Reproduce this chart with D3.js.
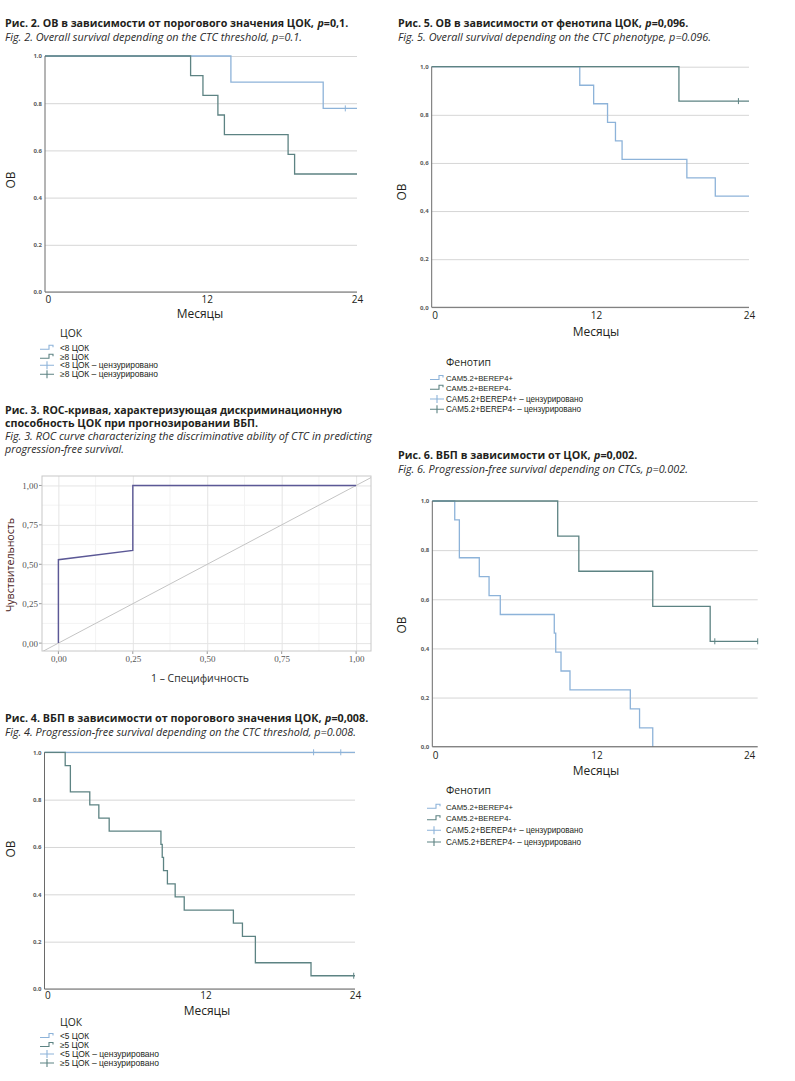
<!DOCTYPE html>
<html><head><meta charset="utf-8">
<script src="https://cdn.jsdelivr.net/npm/d3@7"></script>
<style>body{margin:0;background:#fff}</style>
</head><body>
<script>
// ---------------- DATA ----------------
const kmXTicks = [0, 12, 24];
const kmYTicks = [0, 0.2, 0.4, 0.6, 0.8, 1.0];
const rocTicks = [0, 0.25, 0.5, 0.75, 1];

// Fig 2 – OS by CTC threshold
const f2LowT = [0, 14.3, 21.4];
const f2LowS = [1, 0.889, 0.778];
const f2LowCens = [23.1];
const f2HighT = [0, 11.2, 12.15, 13.3, 13.8, 18.7, 19.2];
const f2HighS = [1, 0.917, 0.833, 0.75, 0.667, 0.583, 0.5];
const f2HighCens = [];

// Fig 3 – ROC
const rocFpr = [0, 0, 0.25, 0.25, 1];
const rocTpr = [0, 0.529, 0.588, 1, 1];

// Fig 4 – PFS by CTC threshold
const f4LowT = [0];
const f4LowS = [1];
const f4LowCens = [20.8, 22.9];
const f4HighT = [0, 1.6, 2.0, 3.5, 4.2, 5.0, 9.0, 9.1, 9.2, 9.5, 10.1, 10.8, 14.6, 15.3, 16.3, 20.6];
const f4HighS = [1, 0.944, 0.833, 0.778, 0.722, 0.667, 0.611, 0.556, 0.5, 0.444, 0.389, 0.333, 0.278, 0.222, 0.111, 0.056];
const f4HighCens = [23.9];

// Fig 5 – OS by phenotype
const f5PosT = [0, 11.2, 12.25, 13.3, 13.9, 14.4, 19.3, 21.45];
const f5PosS = [1, 0.923, 0.846, 0.769, 0.692, 0.615, 0.538, 0.462];
const f5PosCens = [];
const f5NegT = [0, 18.7];
const f5NegS = [1, 0.857];
const f5NegCens = [23.2];

// Fig 6 – PFS by phenotype
const f6PosT = [0, 1.7, 2.05, 3.56, 4.3, 5.15, 9.24, 9.35, 9.75, 10.43, 15.0, 15.7, 16.7];
const f6PosS = [1, 0.923, 0.769, 0.692, 0.615, 0.538, 0.462, 0.385, 0.308, 0.231, 0.154, 0.077, 0];
const f6PosCens = [];
const f6NegT = [0, 9.5, 11.1, 16.7, 21.05];
const f6NegS = [1, 0.857, 0.714, 0.571, 0.429];
const f6NegCens = [21.4, 24.65];

// texts
const title2 = ["Рис. 2. ОВ в зависимости от порогового значения ЦОК,", "p", "=0,1."];
const sub2 = "Fig. 2. Overall survival depending on the CTC threshold, p=0.1.";
const title3 = ["Рис. 3. ROC-кривая, характеризующая дискриминационную", "способность ЦОК при прогнозировании ВБП."];
const sub3 = ["Fig. 3. ROC curve characterizing the discriminative ability of CTC in predicting", "progression-free survival."];
const title4 = ["Рис. 4. ВБП в зависимости от порогового значения ЦОК,", "p", "=0,008."];
const sub4 = "Fig. 4. Progression-free survival depending on the CTC threshold, p=0.008.";
const title5 = ["Рис. 5. ОВ в зависимости от фенотипа ЦОК,", "p", "=0,096."];
const sub5 = "Fig. 5. Overall survival depending on the CTC phenotype, p=0.096.";
const title6 = ["Рис. 6. ВБП в зависимости от ЦОК,", "p", "=0,002."];
const sub6 = "Fig. 6. Progression-free survival depending on CTCs, p=0.002.";
const legend2 = ["<8 ЦОК", "≥8 ЦОК", "<8 ЦОК – цензурировано", "≥8 ЦОК – цензурировано"];
const legend4 = ["<5 ЦОК", "≥5 ЦОК", "<5 ЦОК – цензурировано", "≥5 ЦОК – цензурировано"];
const legendPh = ["CAM5.2+BEREP4+", "CAM5.2+BEREP4-", "CAM5.2+BEREP4+ – цензурировано", "CAM5.2+BEREP4- – цензурировано"];

// ---------------- DRAW ----------------
const LIGHT = "#8db3d9", DARK = "#5d8383";
const SANS = "'Open Sans', 'Noto Sans', sans-serif";
const svg = d3.select("body").append("svg").attr("width", 795).attr("height", 1081);

// fit a text to a target length: shrink font if natural width is too wide, then set textLength
function fitLen(t, fs, len) {
  const nat = t.node().getComputedTextLength();
  if (nat > len) t.attr("font-size", fs * len / nat);
  t.attr("textLength", len).attr("lengthAdjust", "spacingAndGlyphs");
}

function txt(g, x, y, s, o = {}) {
  const fs = o.fs || 9;
  const t = g.append("text").attr("x", x).attr("y", y).text(s)
    .attr("font-family", o.ff || SANS).attr("font-size", fs)
    .attr("fill", o.fill || "#231f20");
  if (o.fw) t.attr("font-weight", o.fw);
  if (o.fst) t.attr("font-style", o.fst);
  if (o.anchor) t.attr("text-anchor", o.anchor);
  if (o.len) fitLen(t, fs, o.len);
  if (o.rot) t.attr("transform", `rotate(-90,${x},${y})`);
  return t;
}

// bold title made of separate pieces (italic "p"), fitted to a total length
function titleBold(x, y, parts, len) {
  const FS = 11.5;
  const nodes = parts.map((p, i) => {
    const t = svg.append("text").attr("y", y).text(p)
      .attr("font-family", SANS).attr("font-size", FS).attr("font-weight", 700).attr("fill", "#231f20");
    if (i === 1) t.attr("font-style", "italic");
    return t;
  });
  const gap = parts.length > 1 ? 3.5 : 0;
  let widths = nodes.map(n => n.node().getComputedTextLength());
  let k = len / (d3.sum(widths) + gap);
  if (k < 1) {
    nodes.forEach(n => n.attr("font-size", FS * k));
    widths = nodes.map(n => n.node().getComputedTextLength());
    k = len / (d3.sum(widths) + gap * k);
  }
  let cx = x;
  nodes.forEach((n, i) => {
    n.attr("x", cx).attr("textLength", widths[i] * k).attr("lengthAdjust", "spacingAndGlyphs");
    cx += widths[i] * k + (i === 0 ? gap : 0);
  });
}
function titleIt(x, y, s, len) {
  txt(svg, x, y, s, {fs: 11.5, fst: "italic", fill: "#2b2b2b", len: len});
}

function drawKM(p) {
  const g = svg.append("g");
  const x = d3.scaleLinear().domain([0, p.xmax]).range([p.x0, p.x1]);
  const y = d3.scaleLinear().domain([0, 1]).range([p.yb, p.yt]);
  const fmt = v => { const s = d3.format(".1f")(v); return p.comma ? s.replace(".", ",") : s; };

  const ya = g.append("g").attr("transform", `translate(${p.x0},0)`)
    .call(d3.axisLeft(y).tickValues(kmYTicks).tickSize(-(p.x1 - p.x0)).tickFormat(fmt).tickPadding(3));
  ya.select(".domain").remove();
  ya.selectAll(".tick line").attr("stroke", "#d6d6d6").attr("stroke-width", 1);
  ya.selectAll(".tick text").attr("font-family", SANS).attr("font-size", 6).attr("font-weight", 700)
    .attr("fill", "#5a5a5a").attr("dy", "0.3em");

  const xa = g.append("g").attr("transform", `translate(0,${p.yb})`)
    .call(d3.axisBottom(x).tickValues(kmXTicks).tickSize(0).tickPadding(p.xtPad));
  xa.select(".domain").remove();
  xa.selectAll(".tick text").attr("font-family", SANS).attr("font-size", 10).attr("fill", "#231f20")
    .attr("text-anchor", (d, i) => i === kmXTicks.length - 1 ? "middle" : "start");

  const line = d3.line().x(d => x(d[0])).y(d => y(d[1])).curve(d3.curveStepAfter);
  p.series.forEach(s => {
    const pts = s.T.map((t, i) => [t, s.S[i]]);
    pts.push([s.end, s.S[s.S.length - 1]]);
    g.append("path").attr("d", line(pts)).attr("fill", "none")
      .attr("stroke", s.color).attr("stroke-width", 1.3);
    s.C.forEach(c => {
      let v = 1;
      s.T.forEach((t, i) => { if (t <= c) v = s.S[i]; });
      g.append("line").attr("x1", x(c)).attr("x2", x(c)).attr("y1", y(v) - 3).attr("y2", y(v) + 3)
        .attr("stroke", s.color).attr("stroke-width", 1);
    });
  });

  g.append("line").attr("x1", p.x0).attr("x2", p.x0).attr("y1", p.yt).attr("y2", p.yb)
    .attr("stroke", "#6a6a6a").attr("stroke-width", 1);
  g.append("line").attr("x1", p.x0).attr("x2", p.x1).attr("y1", p.yb).attr("y2", p.yb)
    .attr("stroke", "#6a6a6a").attr("stroke-width", 1);

  txt(g, p.xlX, p.xlY, "Месяцы", {fs: 12, anchor: "middle"});
  txt(g, p.ylX, p.ylY, "ОВ", {fs: 12, anchor: "middle", rot: true});

  const L = p.legend;
  txt(g, L.tx, L.titleY, L.title, {fs: 12.5, len: L.titleLen});
  L.items.forEach((s, i) => {
    const yy = L.ys[i];
    const col = i % 2 === 0 ? LIGHT : DARK;
    const sx = L.sx;
    if (i < 2) {
      g.append("path").attr("d", `M${sx},${yy + 1.5}H${sx + 9}V${yy - 2.5}H${sx + 13}V${yy - 0.5}`)
        .attr("fill", "none").attr("stroke", col).attr("stroke-width", 1.1);
    } else {
      g.append("path").attr("d", `M${sx},${yy}H${sx + 14}M${sx + 7},${yy - 4}V${yy + 4}`)
        .attr("fill", "none").attr("stroke", col).attr("stroke-width", 1.1);
    }
    txt(g, L.tx, yy + 3, s, {fs: 8.4, len: L.lens[i], ff: "'Liberation Sans', Arial, sans-serif"});
  });
}

// ---- Titles ----
titleBold(5, 27, title2, 343);
titleIt(5, 40.5, sub2, 297);
titleBold(5, 414, [title3[0]], 337);
titleBold(5, 426.5, [title3[1]], 253);
titleIt(5, 440, sub3[0], 367);
titleIt(5, 453, sub3[1], 119);
titleBold(5, 722, title4, 363);
titleIt(5, 736, sub4, 351);
titleBold(398, 27, title5, 290);
titleIt(398, 40.5, sub5, 313);
titleBold(398, 459, title6, 239);
titleIt(398, 472.5, sub6, 290);

// ---- Fig 2 ----
drawKM({
  x0: 45, x1: 357, xmax: 24, yt: 56, yb: 292, comma: false, xtPad: 4,
  xlX: 200, xlY: 318, ylX: 15, ylY: 180,
  series: [
    {T: f2LowT, S: f2LowS, C: f2LowCens, end: 24, color: LIGHT},
    {T: f2HighT, S: f2HighS, C: f2HighCens, end: 24, color: DARK}
  ],
  legend: {title: "ЦОК", tx: 60, titleY: 337, titleLen: 22, sx: 40,
    items: legend2, ys: [347.7, 356.7, 365.3, 374.3], lens: [29, 29, 98, 98]}
});

// ---- Fig 4 ----
drawKM({
  x0: 44.5, x1: 355, xmax: 24, yt: 752.3, yb: 989, comma: false, xtPad: 3,
  xlX: 207, xlY: 1015, ylX: 15, ylY: 849,
  series: [
    {T: f4LowT, S: f4LowS, C: f4LowCens, end: 24, color: LIGHT},
    {T: f4HighT, S: f4HighS, C: f4HighCens, end: 24, color: DARK}
  ],
  legend: {title: "ЦОК", tx: 60, titleY: 1026, titleLen: 22, sx: 40,
    items: legend4, ys: [1036, 1045, 1054, 1063], lens: [29, 29, 99, 99]}
});

// ---- Fig 5 ----
drawKM({
  x0: 431.7, x1: 749, xmax: 24, yt: 66.7, yb: 307.3, comma: true, xtPad: 5,
  xlX: 596, xlY: 336, ylX: 406, ylY: 192,
  series: [
    {T: f5PosT, S: f5PosS, C: f5PosCens, end: 24, color: LIGHT},
    {T: f5NegT, S: f5NegS, C: f5NegCens, end: 24, color: DARK}
  ],
  legend: {title: "Фенотип", tx: 446, titleY: 366, titleLen: 45, sx: 430,
    items: legendPh, ys: [378, 387.7, 399, 409.3], lens: [67, 65, 137, 135]}
});

// ---- Fig 6 ----
drawKM({
  x0: 432.3, x1: 757.7, xmax: 24.65, yt: 501, yb: 746.7, comma: true, xtPad: 5,
  xlX: 596, xlY: 775, ylX: 406, ylY: 625,
  series: [
    {T: f6PosT, S: f6PosS, C: f6PosCens, end: 16.7, color: LIGHT},
    {T: f6NegT, S: f6NegS, C: f6NegCens, end: 24.65, color: DARK}
  ],
  legend: {title: "Фенотип", tx: 446, titleY: 794, titleLen: 45, sx: 427,
    items: legendPh, ys: [806.7, 818.3, 830.3, 842], lens: [67, 65, 137, 135]}
});

// ---- Fig 3 ROC ----
(function () {
  const g = svg.append("g");
  const bx0 = 42, bx1 = 371, by0 = 476, by1 = 651;
  const x = d3.scaleLinear().domain([-0.055, 1.05]).range([bx0, bx1]);
  const y = d3.scaleLinear().domain([-0.05, 1.06]).range([by1, by0]);
  const fmt = v => d3.format(".2f")(v).replace(".", ",");
  const minor = [0.125, 0.375, 0.625, 0.875];

  minor.forEach(v => {
    g.append("line").attr("x1", x(v)).attr("x2", x(v)).attr("y1", by0).attr("y2", by1).attr("stroke", "#f3f3f3");
    g.append("line").attr("x1", bx0).attr("x2", bx1).attr("y1", y(v)).attr("y2", y(v)).attr("stroke", "#f3f3f3");
  });
  const ya = g.append("g").attr("transform", `translate(${bx0},0)`)
    .call(d3.axisLeft(y).tickValues(rocTicks).tickSize(-(bx1 - bx0)).tickFormat(fmt).tickPadding(4));
  ya.select(".domain").remove();
  ya.selectAll(".tick line").attr("stroke", "#e4e4e4");
  ya.selectAll(".tick text").attr("font-family", "'Liberation Serif', serif").attr("font-size", 9).attr("fill", "#555");
  const xa = g.append("g").attr("transform", `translate(0,${by1})`)
    .call(d3.axisBottom(x).tickValues(rocTicks).tickSize(-(by1 - by0)).tickFormat(fmt).tickPadding(5));
  xa.select(".domain").remove();
  xa.selectAll(".tick line").attr("stroke", "#e4e4e4");
  xa.selectAll(".tick text").attr("font-family", "'Liberation Serif', serif").attr("font-size", 9).attr("fill", "#555");

  rocTicks.forEach(v => {
    g.append("line").attr("x1", bx0 - 3).attr("x2", bx0).attr("y1", y(v)).attr("y2", y(v)).attr("stroke", "#999");
    g.append("line").attr("x1", x(v)).attr("x2", x(v)).attr("y1", by1).attr("y2", by1 + 3).attr("stroke", "#999");
  });

  g.append("rect").attr("x", bx0).attr("y", by0).attr("width", bx1 - bx0).attr("height", by1 - by0)
    .attr("fill", "none").attr("stroke", "#c8c8c8");

  svg.append("clipPath").attr("id", "rocclip").append("rect")
    .attr("x", bx0).attr("y", by0).attr("width", bx1 - bx0).attr("height", by1 - by0);
  g.append("line").attr("clip-path", "url(#rocclip)")
    .attr("x1", x(-0.1)).attr("y1", y(-0.1)).attr("x2", x(1.1)).attr("y2", y(1.1))
    .attr("stroke", "#c4c4c4").attr("stroke-width", 1);

  const line = d3.line().x((d, i) => x(rocFpr[i])).y((d, i) => y(rocTpr[i]));
  g.append("path").attr("d", line(rocFpr)).attr("fill", "none").attr("stroke", "#5b5896").attr("stroke-width", 1.4);

  txt(g, 200, 682, "1 – Специфичность", {fs: 11.5, anchor: "middle", len: 98, fill: "#2a2a2a"});
  txt(g, 14, 565, "Чувствительность", {fs: 11.5, anchor: "middle", rot: true, len: 94, fill: "#4a1a1a"});
})();
</script>
</body></html>
